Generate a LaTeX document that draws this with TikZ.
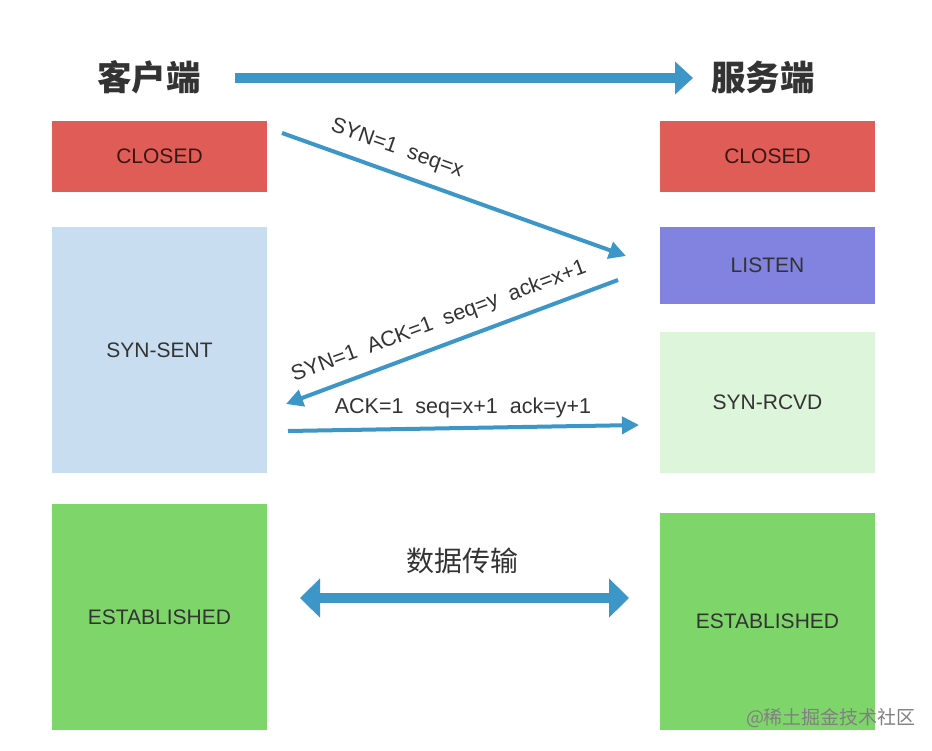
\documentclass[tikz,border=0pt]{standalone}
\usepackage{fontspec}
\setmainfont{Liberation Sans}
\newfontfamily\cjk{Noto Sans CJK SC}
\usetikzlibrary{arrows.meta}
\definecolor{cred}{HTML}{E05D57}
\definecolor{cblue}{HTML}{C8DEF0}
\definecolor{cpurple}{HTML}{8282E0}
\definecolor{clgreen}{HTML}{DDF5DB}
\definecolor{cgreen}{HTML}{7ED66B}
\definecolor{carrow}{HTML}{3C96C8}
\definecolor{ctext}{HTML}{333333}
\begin{document}
\begin{tikzpicture}[x=1pt,y=-1pt,
  state/.style={rectangle,minimum width=215pt,inner sep=0pt,font=\fontsize{21}{24}\selectfont,text=ctext},
  thinarrow/.style={draw=carrow,line width=4pt,-{Triangle[length=17pt,width=17pt]}},
  bigarrow/.style={draw=carrow,line width=10pt,-{Triangle[length=18pt,width=32pt]}},
  dblarrow/.style={draw=carrow,line width=10pt,{Triangle[length=20pt,width=38pt]}-{Triangle[length=20pt,width=38pt]}},
  msg/.style={font=\fontsize{21.5}{24}\selectfont,text=ctext,inner sep=0pt},
  header/.style={font=\cjk\bfseries\fontsize{34.5}{38}\selectfont,text=ctext,inner sep=0pt}]
\useasboundingbox[fill=white] (0,0) rectangle (932,750);

% headers
\node[header] (client) at (149,77) {客户端};
\node[header] (server) at (763,77) {服务端};
\coordinate (hs) at (235,78);
\coordinate (he) at (693,78);
\draw[bigarrow] (hs) -- (he);

% client states
\node[state,fill=cred,minimum height=71pt,text=black!75!cred] (cclosed) at (159.5,156.5) {CLOSED};
\node[state,fill=cblue,minimum height=246pt] (csent) at (159.5,350) {SYN-SENT};
\node[state,fill=cgreen,minimum height=226pt] (cest) at (159.5,617) {ESTABLISHED};

% server states
\node[state,fill=cred,minimum height=71pt,text=black!75!cred] (sclosed) at (767.5,156.5) {CLOSED};
\node[state,fill=cpurple,minimum height=77pt] (slisten) at (767.5,265.5) {LISTEN};
\node[state,fill=clgreen,minimum height=141pt] (srcvd) at (767.5,402.5) {SYN-RCVD};
\node[state,fill=cgreen,minimum height=217pt] (sest) at (767.5,621.5) {ESTABLISHED};

% handshake
\coordinate (m1s) at (282,133);
\coordinate (m1e) at (626,256);
\draw[thinarrow] (m1s) -- (m1e);
\node[msg,rotate=-19.6] (l1) at (397,149) {SYN=1\ \ seq=x};

\coordinate (m2s) at (618,280);
\coordinate (m2e) at (286,404);
\draw[thinarrow] (m2s) -- (m2e);
\node[msg,rotate=20.4] (l2) at (439,322) {SYN=1\ \ ACK=1\ \ seq=y\ \ ack=x+1};

\coordinate (m3s) at (288,431);
\coordinate (m3e) at (639,425);
\draw[thinarrow] (m3s) -- (m3e);
\node[msg] (l3) at (463,408) {ACK=1\ \ seq=x+1\ \ ack=y+1};

% data transfer
\coordinate (ds) at (300,598);
\coordinate (de) at (629,598);
\draw[dblarrow] (ds) -- (de);
\node[msg,font=\cjk\fontsize{28}{32}\selectfont] (ldata) at (462,561) {数据传输};

% watermark
\node[inner sep=0pt,text=black!50,font=\cjk\fontsize{19}{21}\selectfont] (wm) at (831,718) {@稀土掘金技术社区};
\end{tikzpicture}
\end{document}
